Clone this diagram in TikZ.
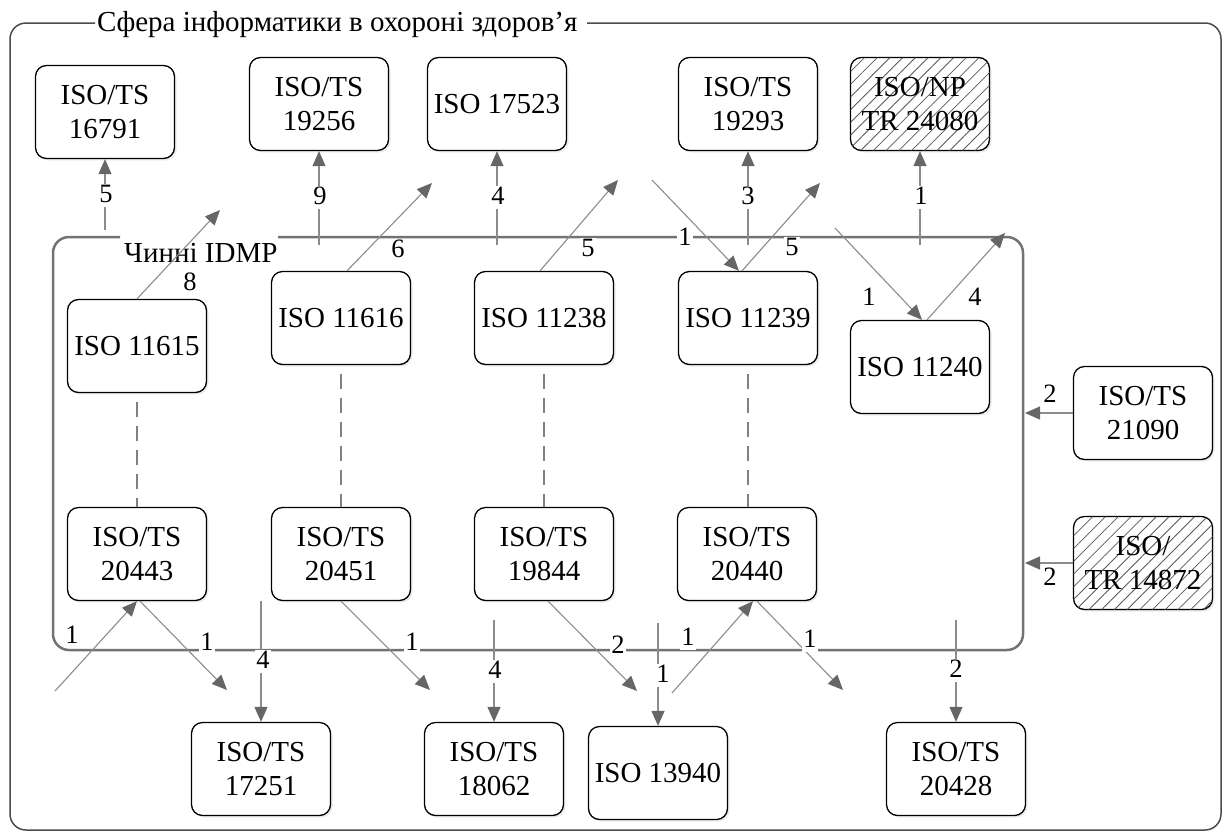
\documentclass[tikz,border=0pt]{standalone}
\usepackage{fontspec}
\setmainfont{Liberation Serif}
\usepackage{tikz}
\usetikzlibrary{arrows.meta,patterns.meta,shadows}

\begin{document}
\begin{tikzpicture}[x=1pt,y=-1pt,
    box/.style={draw, line width=1.3pt, rounded corners=11pt, fill=white,
                align=center, minimum width=139pt, minimum height=93pt,
                inner sep=0pt, font=\fontsize{29}{34}\selectfont,
                drop shadow={opacity=.15, shadow xshift=2pt, shadow yshift=-2pt}},
    hatched/.style={box, postaction={pattern={Lines[angle=45,distance=9pt,line width=.8pt]},
                pattern color=black!65}},
    arr/.style={draw=black!45, line width=1.1pt,
                -{Triangle[length=15pt,width=13pt,color=black!60]}},
    link/.style={draw=black!50, line width=1.5pt, dash pattern=on 15pt off 9pt},
    lbl/.style={fill=white, inner sep=1pt, text height=18pt, text depth=3pt,
                font=\fontsize{26.5}{27}\selectfont},
    title/.style={anchor=west, inner sep=0pt, font=\fontsize{29}{30}\selectfont}
  ]
  \useasboundingbox (0,0) rectangle (1225,833);

  \draw[black!70, line width=1.5pt, rounded corners=16pt]
    (587,23) -- (1221,23) -- (1221,830) -- (10,830) -- (10,23) -- (95,23);
  \node[title] (sfera) at (97,25) {Сфера інформатики в охороні здоров’я};

  \draw[black!55, line width=2.5pt, rounded corners=16pt]
    (278,237) -- (1023,237) -- (1023,650) -- (53,650) -- (53,237) -- (120,237);
  \node[title] (idmp) at (124,253) {Чинні IDMP};

  \node[box] (ts16791) at (105,112) {ISO/TS\\16791};
  \node[box] (ts19256) at (319,104) {ISO/TS\\19256};
  \node[box] (iso17523) at (497,104) {ISO 17523};
  \node[box] (ts19293) at (748,104) {ISO/TS\\19293};
  \node[hatched] (np24080) at (920,104) {ISO/NP\\TR 24080};

  \node[box] (iso11615) at (137,346) {ISO 11615};
  \node[box] (iso11616) at (341,318) {ISO 11616};
  \node[box] (iso11238) at (544,318) {ISO 11238};
  \node[box] (iso11239) at (748,318) {ISO 11239};
  \node[box] (iso11240) at (920,367) {ISO 11240};

  \node[box] (ts20443) at (137,554) {ISO/TS\\20443};
  \node[box] (ts20451) at (341,554) {ISO/TS\\20451};
  \node[box] (ts19844) at (544,554) {ISO/TS\\19844};
  \node[box] (ts20440) at (747,554) {ISO/TS\\20440};

  \node[box] (ts21090) at (1143,413) {ISO/TS\\21090};
  \node[hatched] (tr14872) at (1143,563) {ISO/\\TR 14872};

  \node[box] (ts17251) at (261,769) {ISO/TS\\17251};
  \node[box] (ts18062) at (494,769) {ISO/TS\\18062};
  \node[box] (iso13940) at (658,773) {ISO 13940};
  \node[box] (ts20428) at (956,769) {ISO/TS\\20428};

  \coordinate (u5) at (105,230);
  \coordinate (u9) at (319,245);
  \coordinate (u4) at (497,245);
  \coordinate (u3) at (748,245);
  \coordinate (u1) at (920,245);
  \coordinate (e8) at (220,210);
  \coordinate (e6) at (432,183);
  \coordinate (e5a) at (618,180);
  \coordinate (s1a) at (652,180);
  \coordinate (e5b) at (820,183);
  \coordinate (s1b) at (835,228);
  \coordinate (e4) at (1005,233);
  \coordinate (r2a) at (1025,413);
  \coordinate (r2b) at (1025,563);
  \coordinate (s1c) at (55,691);
  \coordinate (e1a) at (227,690);
  \coordinate (d4a) at (261,601);
  \coordinate (e1b) at (430,690);
  \coordinate (d4b) at (494,620);
  \coordinate (e2) at (637,691);
  \coordinate (d1) at (658,623);
  \coordinate (s1d) at (672,693);
  \coordinate (e1c) at (843,690);
  \coordinate (d2) at (956,620);

  \draw[arr] (u5) -- (ts16791);
  \draw[arr] (u9) -- (ts19256);
  \draw[arr] (u4) -- (iso17523);
  \draw[arr] (u3) -- (ts19293);
  \draw[arr] (u1) -- (np24080);
  \draw[arr] (iso11615.north) -- (e8);
  \draw[arr] ([xshift=6pt]iso11616.north) -- (e6);
  \draw[arr] ([xshift=-4pt]iso11238.north) -- (e5a);
  \draw[arr] (s1a) -- ([xshift=-9pt]iso11239.north);
  \draw[arr] ([xshift=-6pt]iso11239.north) -- (e5b);
  \draw[arr] (s1b) -- ([xshift=2pt]iso11240.north);
  \draw[arr] ([xshift=7pt]iso11240.north) -- (e4);
  \draw[arr] (ts21090) -- (r2a);
  \draw[arr] (tr14872) -- (r2b);
  \draw[arr] (s1c) -- (ts20443.south);
  \draw[arr] ([xshift=3pt]ts20443.south) -- (e1a);
  \draw[arr] (d4a) -- (ts17251);
  \draw[arr] (ts20451.south) -- (e1b);
  \draw[arr] (d4b) -- (ts18062);
  \draw[arr] ([xshift=4pt]ts19844.south) -- (e2);
  \draw[arr] (d1) -- (iso13940);
  \draw[arr] (s1d) -- ([xshift=6pt]ts20440.south);
  \draw[arr] ([xshift=10pt]ts20440.south) -- (e1c);
  \draw[arr] (d2) -- (ts20428);

  \draw[link, shorten <=9pt] (iso11615.south) -- (ts20443.north);
  \draw[link, shorten <=9pt] (iso11616.south) -- (ts20451.north);
  \draw[link, shorten <=9pt] (iso11238.south) -- (ts19844.north);
  \draw[link, shorten <=9pt] (iso11239.south) -- ([xshift=1pt]ts20440.north);

  \node[lbl] (n5) at (106,195) {5};
  \node[lbl] (n9) at (320,197) {9};
  \node[lbl] (n4a) at (498,197) {4};
  \node[lbl] (n3) at (748,197) {3};
  \node[lbl] (n1a) at (921,197) {1};
  \node[lbl] (n8) at (190,283) {8};
  \node[lbl] (n6) at (398,250) {6};
  \node[lbl] (n5a) at (588,249) {5};
  \node[lbl] (n1b) at (685,238) {1};
  \node[lbl] (n5b) at (792,248) {5};
  \node[lbl] (n1c) at (869,298) {1};
  \node[lbl] (n4b) at (975,298) {4};
  \node[lbl] (n2a) at (1050,395) {2};
  \node[lbl] (n2b) at (1050,578) {2};
  \node[lbl] (n1d) at (72,636) {1};
  \node[lbl] (n1e) at (207,643) {1};
  \node[lbl] (n4c) at (263,661) {4};
  \node[lbl] (n1f) at (412,643) {1};
  \node[lbl] (n4d) at (495,671) {4};
  \node[lbl] (n2c) at (618,646) {2};
  \node[lbl] (n1g) at (663,675) {1};
  \node[lbl] (n1h) at (688,638) {1};
  \node[lbl] (n1i) at (810,640) {1};
  \node[lbl] (n2d) at (956,670) {2};
\end{tikzpicture}
\end{document}
